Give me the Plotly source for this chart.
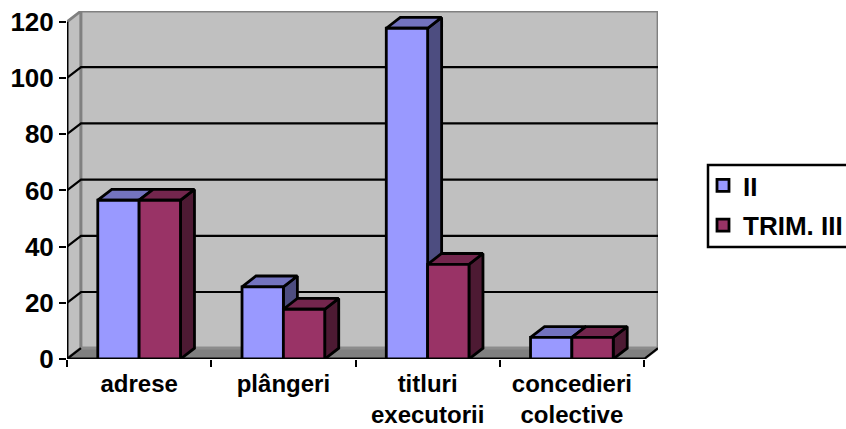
import plotly.graph_objects as go

categories = ["adrese", "plângeri", "titluri<br>executorii", "concedieri<br>colective"]
series_ii = [56.5, 25.7, 117.7, 7.7]
series_trim = [56.5, 17.7, 33.7, 7.7]
y_ticks = [0, 20, 40, 60, 80, 100, 120]
y_max = 120
n = len(categories)

# oblique projection offsets, in axis units
DX = 14 / 144.25
DY = 3.84
BAR_W = 0.2866
FONT = "Liberation Sans"
LW = 2.8

fig = go.Figure()


def poly(xs, ys, fill, line, lw=LW, z=0):
    fig.add_trace(go.Scatter(
        x=xs + xs[:1], y=ys + ys[:1], mode="lines", fill="toself", fillcolor=fill,
        line=dict(color=line, width=lw), hoverinfo="skip", showlegend=False,
        cliponaxis=False, zorder=z))


def seg(xs, ys, color="black", lw=2.2, z=0):
    fig.add_trace(go.Scatter(
        x=xs, y=ys, mode="lines", line=dict(color=color, width=lw),
        hoverinfo="skip", showlegend=False, cliponaxis=False, zorder=z))


# walls and floor
poly([0, DX, DX, 0], [0, DY, y_max + DY, y_max], "#C0C0C0", "#808080")
poly([DX, n + DX, n + DX, DX], [DY, DY, y_max + DY, y_max + DY], "#C0C0C0", "#808080")
poly([0, n, n + DX, DX], [0, 0, DY, DY], "#808080", "#8C8C8C")

# gridlines
for t in y_ticks[1:-1]:
    seg([0, DX, n + DX], [t, t + DY, t + DY])
seg([0, DX], [0, DY])
seg([n, n + DX], [0, DY])
seg([0, 0], [0, y_max], lw=LW)
seg([0, n], [0, 0], lw=LW)


def bars(values, name, offset, front, top, side, z):
    for i, v in enumerate(values):
        x0 = i + 0.5 + offset
        x1 = x0 + BAR_W
        poly([x1, x1 + DX, x1 + DX, x1], [0, DY, v + DY, v], side, "black", z=z)
        poly([x0, x1, x1 + DX, x0 + DX], [v, v, v + DY, v + DY], top, "black", z=z)
    fig.add_trace(go.Bar(
        x=[i + 0.5 for i in range(n)], y=values, width=BAR_W, offset=offset, name=name,
        legendgroup=name,
        marker=dict(color=front, line=dict(color="black", width=LW)),
        hoverinfo="skip", zorder=z + 1))


bars(series_ii, "II", -BAR_W, "#9999FF", "#7373BF", "#4D4D80", 1)
bars(series_trim, "TRIM. III", 0, "#993366", "#73264D", "#4D1A33", 3)

fig.update_layout(
    width=846, height=429, barmode="overlay", paper_bgcolor="white", plot_bgcolor="white",
    margin=dict(l=67, r=188, t=11, b=70, autoexpand=False),
    font=dict(family=FONT, color="black"),
    xaxis=dict(
        range=[0, n + DX], tickmode="array", tickvals=[i + 0.5 for i in range(n)],
        ticktext=categories, ticks="outside", ticklen=0, ticklabelstandoff=3,
        showgrid=False, zeroline=False, showline=False,
        tickfont=dict(family=FONT, size=24, weight="bold", color="black"),
        minor=dict(tickmode="array", tickvals=list(range(n + 1)), ticks="outside",
                   ticklen=7, tickwidth=2, tickcolor="black", showgrid=False)),
    yaxis=dict(
        range=[0, y_max + DY], tickmode="array", tickvals=y_ticks, ticks="outside",
        ticklen=7, tickwidth=2, tickcolor="black", showgrid=False, zeroline=False,
        showline=False, tickfont=dict(family=FONT, size=26, weight="bold", color="black")),
    legend=dict(
        x=(703 - 67) / 591, xanchor="left", y=(359 - 162) / 348, yanchor="top",
        bgcolor="rgba(0,0,0,0)", borderwidth=0, traceorder="grouped", tracegroupgap=3,
        font=dict(family=FONT, size=26, weight="bold", color="black")),
    shapes=[dict(type="rect", xref="paper", yref="paper", layer="below",
                 x0=(708 - 67) / 591, x1=(860 - 67) / 591,
                 y0=(359 - 165) / 348, y1=(359 - 247) / 348,
                 line=dict(color="black", width=2.5), fillcolor="white")],
)

fig.write_html("out.html", config={"displayModeBar": False},
               post_script="document.body.style.margin='0';window.dispatchEvent(new Event('resize'));")
